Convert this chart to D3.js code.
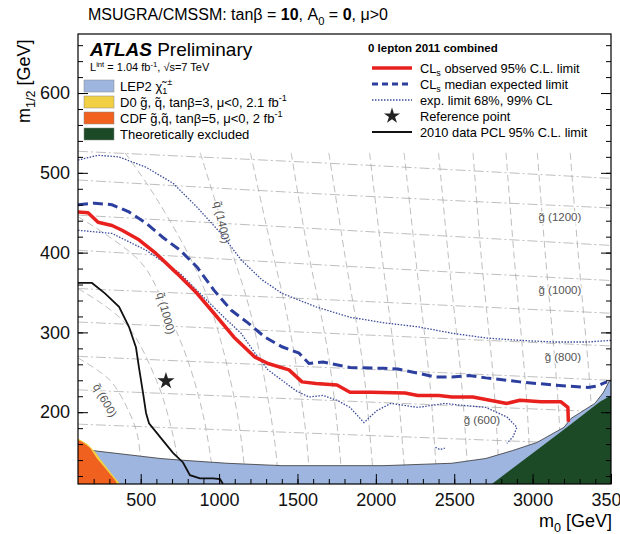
<!DOCTYPE html>
<html lang="en">
<head>
<meta charset="UTF-8">
<title>MSUGRA/CMSSM 0 lepton limit</title>
<script src="https://d3js.org/d3.v7.min.js"></script>
<style>
  body { margin: 0; background: #fff; }
  svg { font-family: "Liberation Sans", Arial, Helvetica, sans-serif; }
  .grid { fill: none; stroke: #a8a8a8; stroke-width: 0.75; }
  .glabel { font-size: 11.5px; fill: #555; stroke: #fff; stroke-width: 3px; paint-order: stroke; }
</style>
</head>
<body>
<svg width="620" height="534"></svg>
<script>
// ---- data, [m0, m1/2] in GeV ----
const observed = [[100,451],[164,450],[228,438],[317,434],[381,428],[489,416],[597,399],[731,374],[859,349],[967,324],[1095,294],[1229,269],[1312,261],[1446,253],[1529,238],[1618,236],[1752,234],[1835,225],[1969,225],[2186,224],[2268,221],[2402,221],[2485,219],[2619,219],[2702,216],[2836,211],[2919,215],[3053,213],[3181,213],[3225,206],[3228,188]];
const expected = [[100,460],[208,462],[317,460],[425,451],[534,437],[642,419],[751,403],[859,382],[967,353],[1076,328],[1184,312],[1293,294],[1401,282],[1510,274],[1573,261],[1663,263],[1835,256],[2052,255],[2141,254],[2268,249],[2377,244],[2485,244],[2593,246],[2702,243],[2919,238],[3136,234],[3352,231],[3417,233],[3449,236],[3475,238]];
const expUpper = [[100,516],[228,522],[361,520],[534,507],[706,487],[859,457],[1012,424],[1140,391],[1273,366],[1401,349],[1618,332],[1835,319],[2052,312],[2268,307],[2485,299],[2702,293],[2919,290],[3136,288],[3352,288],[3500,290]];
const expLower = [[100,428],[317,424],[534,403],[751,374],[923,340],[1031,319],[1140,299],[1229,274],[1312,253],[1401,240],[1490,227],[1573,219],[1663,221],[1752,215],[1835,206],[1924,187],[2007,202],[2096,211],[2268,206],[2441,211],[2530,209],[2702,206],[2836,194],[2900,181],[2874,169],[2836,161]];
const expIsland = [[2380,156],[2410,153],[2440,155]];
const pcl2010 = [[100,362],[189,362],[272,349],[362,332],[425,307],[470,281],[489,256],[515,224],[534,199],[553,186],[623,169],[706,149],[770,137],[814,121],[878,117],[961,117],[1006,116],[1025,110]];
const refPoint = [661, 239];

const lepTop = [[100,156],[189,152],[623,142],[751,140],[1050,136],[1401,133],[2052,133],[2485,136],[2702,142],[2874,152],[3027,162],[3136,174],[3200,181],[3244,192],[3308,200],[3397,211],[3449,224],[3487,238],[3500,241]];
const d0Edge = [[100,167],[160,160],[210,150],[255,138],[315,123],[368,110]];
const cdfEdge = [[100,165],[132,162],[177,155],[221,142],[285,127],[336,115],[349,110]];
const theoEdge = [[2740,110],[3002,149],[3219,181],[3429,213],[3500,221]];

// iso-mass contours (grey)
const squarkLines = [
  [[100,268],[304,240],[412,206],[476,174],[500,140],[510,110]],
  [[100,355],[400,312],[600,240],[700,176],[750,125],[760,110]],
  [[100,445],[500,388],[661,330],[800,265],[900,195],[960,125],[970,110]],
  [[400,525],[600,468],[900,357],[1100,215],[1165,125],[1170,110]],
  [[880,525],[1018,438],[1200,325],[1350,170],[1380,110]],
  [[1200,525],[1300,435],[1450,305],[1550,180],[1580,110]],
  [[1460,525],[1550,420],[1700,268],[1770,150],[1785,110]],
  [[1700,525],[1800,400],[1920,255],[1980,130],[1990,110]],
  [[1960,525],[2030,410],[2130,250],[2180,135],[2190,110]],
  [[2180,525],[2250,400],[2350,225],[2390,110]],
  [[2400,525],[2460,400],[2550,230],[2590,110]],
  [[2620,525],[2670,400],[2750,240],[2790,110]],
  [[2830,525],[2880,400],[2960,220],[2990,110]],
  [[3030,525],[3080,400],[3160,220],[3190,110]],
  [[3240,525],[3290,400],[3370,220],[3395,110]]
];
const gluinoLines = [
  [[100,527],[1800,511],[3500,493]],
  [[100,491],[1800,472],[3500,456]],
  [[100,447],[1800,428],[3500,409]],
  [[100,403],[1800,383],[3500,365]],
  [[100,355],[1800,340],[3500,324]],
  [[100,313],[1800,298],[3500,283]],
  [[100,270],[1800,255],[3500,240]],
  [[100,228],[1800,214],[3500,200]],
  [[100,185],[1800,172],[3500,159]]
];
const gluinoLabels = [["g\u0303 (1200)",3174,445],["g\u0303 (1000)",3174,353],["g\u0303 (800)",3193,269],["g\u0303 (600)",2677,190]];
const squarkLabels = [["q\u0303 (600)",272,215,60],["q\u0303 (1000)",661,324,75],["q\u0303 (1400)",1018,438,78]];

const xTicks = [500,1000,1500,2000,2500,3000,3500];
const yTicks = [200,300,400,500,600];

const fillLabels = ["LEP2  \u03c7\u0303_{1}^{\u00b1}", "D0 g\u0303, q\u0303, tan\u03b2=3, \u03bc<0, 2.1 fb^{-1}", "CDF g\u0303,q\u0303, tan\u03b2=5, \u03bc<0, 2 fb^{-1}", "Theoretically excluded"];
const lineLabels = ["CL_{s} observed 95% C.L. limit", "CL_{s} median expected limit", "exp. limit 68%, 99% CL", "Reference point", "2010 data PCL 95% C.L. limit"];

// ---- styles ----
const col = { lep: "#9db5df", d0: "#f1d043", cdf: "#f0601f", theo: "#1c4a27", obs: "#e8201e", exp: "#2c3f9f", band: "#3b4a9c" };

const margin = { top: 34, right: 9, bottom: 50, left: 78 };
const width = 620 - margin.left - margin.right;
const height = 534 - margin.top - margin.bottom;

const svg = d3.select("svg");
const g = svg.append("g").attr("transform", `translate(${margin.left},${margin.top})`);

const x = d3.scaleLinear().domain([100, 3500]).range([0, width]);
const y = d3.scaleLinear().domain([110, 674]).range([height, 0]);

// text with _{sub}, ^{sup}, *{bold}
function rich(sel, str, fs) {
  let shift = 0;
  str.split(/(_\{[^}]*\}|\^\{[^}]*\}|\*\{[^}]*\})/).forEach(p => {
    if (!p) return;
    let target = 0, size = fs, bold = false, txt = p;
    if (p.startsWith("_{")) { target = fs * 0.3; size = fs * 0.7; txt = p.slice(2, -1); }
    else if (p.startsWith("^{")) { target = -fs * 0.4; size = fs * 0.7; txt = p.slice(2, -1); }
    else if (p.startsWith("*{")) { bold = true; txt = p.slice(2, -1); }
    const t = sel.append("tspan").attr("dy", target - shift).attr("font-size", size).text(txt);
    if (bold) t.attr("font-weight", "bold");
    shift = target;
  });
}

g.append("clipPath").attr("id", "plot").append("rect").attr("width", width).attr("height", height);
const plot = g.append("g").attr("clip-path", "url(#plot)");

const line = d3.line().x(d => x(d[0])).y(d => y(d[1]));
const smooth = d3.line().x(d => x(d[0])).y(d => y(d[1])).curve(d3.curveCatmullRom);

// grey iso-mass grid
plot.selectAll(".sq").data(squarkLines).enter().append("path")
  .attr("class", "grid").attr("d", smooth).attr("stroke-dasharray", "7,4");
plot.selectAll(".gl").data(gluinoLines).enter().append("path")
  .attr("class", "grid").attr("d", smooth).attr("stroke-dasharray", "10,3,2,3");

plot.selectAll(".gll").data(gluinoLabels).enter().append("text")
  .attr("class", "glabel").attr("text-anchor", "middle")
  .attr("x", d => x(d[1])).attr("y", d => y(d[2]) + 4).text(d => d[0]);
plot.selectAll(".sql").data(squarkLabels).enter().append("text")
  .attr("class", "glabel").attr("text-anchor", "middle")
  .attr("transform", d => `translate(${x(d[1])},${y(d[2])}) rotate(${d[3]})`)
  .attr("dy", 4).text(d => d[0]);

// excluded regions
const area = pts => line(pts) + "Z";
plot.append("path").attr("d", area(lepTop.concat([[3500,110],[100,110]]))).attr("fill", col.lep);
plot.append("path").attr("d", line(lepTop)).attr("fill", "none").attr("stroke", "#333").attr("stroke-width", 0.8);
plot.append("path").attr("d", area(d0Edge.concat([[100,110]]))).attr("fill", col.d0);
plot.append("path").attr("d", area(cdfEdge.concat([[100,110]]))).attr("fill", col.cdf);
plot.append("path").attr("d", area(theoEdge.concat([[3500,110]]))).attr("fill", col.theo);

// limits
[expUpper, expLower, expIsland].forEach(pts => {
  plot.append("path").attr("d", line(pts)).attr("fill", "none")
    .attr("stroke", col.band).attr("stroke-width", 1.3).attr("stroke-dasharray", "1.5,1.5");
});
plot.append("path").attr("d", line(expected)).attr("fill", "none")
  .attr("stroke", col.exp).attr("stroke-width", 3).attr("stroke-dasharray", "10,5");
plot.append("path").attr("d", line(observed)).attr("fill", "none")
  .attr("stroke", col.obs).attr("stroke-width", 3.5).attr("stroke-linejoin", "round");
plot.append("path").attr("d", line(pcl2010)).attr("fill", "none")
  .attr("stroke", "#111").attr("stroke-width", 1.8);
plot.append("path").attr("d", d3.symbol(d3.symbolStar, 90)())
  .attr("transform", `translate(${x(refPoint[0])},${y(refPoint[1])})`).attr("fill", "#222");

// axes, ticks inward
function styleAxis(a) {
  a.select(".domain").remove();
  a.selectAll("line").attr("stroke", "#000");
  a.attr("font-family", null).attr("font-size", 18).selectAll("text").attr("fill", "#111");
}
const fmt = d3.format("d");
g.append("g").attr("transform", `translate(0,${height})`)
  .call(d3.axisBottom(x).tickValues(d3.range(200, 3500, 100)).tickSize(-5).tickFormat("")).call(styleAxis);
g.append("g").attr("transform", `translate(0,${height})`)
  .call(d3.axisBottom(x).tickValues(xTicks).tickSize(-10).tickPadding(9).tickFormat(fmt)).call(styleAxis);
g.append("g").call(d3.axisLeft(y).tickValues(d3.range(120, 674, 20)).tickSize(-5).tickFormat("")).call(styleAxis);
g.append("g").call(d3.axisLeft(y).tickValues(yTicks).tickSize(-10).tickPadding(8).tickFormat(fmt)).call(styleAxis);
g.append("g").attr("transform", `translate(${width},0)`)
  .call(d3.axisRight(y).tickValues(d3.range(120, 674, 20)).tickSize(-5).tickFormat("")).call(styleAxis);
g.append("g").attr("transform", `translate(${width},0)`)
  .call(d3.axisRight(y).tickValues(yTicks).tickSize(-10).tickFormat("")).call(styleAxis);

g.append("rect").attr("width", width).attr("height", height)
  .attr("fill", "none").attr("stroke", "#000").attr("stroke-width", 1.2);

// axis titles
rich(svg.append("text").attr("x", 612).attr("y", 527).attr("text-anchor", "end").attr("font-size", 18), "m_{0} [GeV]", 18);
rich(svg.append("text").attr("transform", "translate(30,123) rotate(-90)").attr("font-size", 18), "m_{1/2} [GeV]", 18);

// title
rich(svg.append("text").attr("x", 88).attr("y", 20).attr("font-size", 16),
  "MSUGRA/CMSSM: tan\u03b2 = *{10}, A_{0} = *{0}, \u03bc>0", 16);

// left legend
const atlas = svg.append("text").attr("x", 90).attr("y", 56).attr("font-size", 19);
atlas.append("tspan").attr("font-weight", "bold").attr("font-style", "italic").text("ATLAS");
atlas.append("tspan").text(" Preliminary");
rich(svg.append("text").attr("x", 90).attr("y", 71).attr("font-size", 11),
  "L^{int} = 1.04 fb^{-1}, \u221as=7 TeV", 11);

const fillCols = [col.lep, col.d0, col.cdf, col.theo];
fillLabels.forEach((lab, i) => {
  svg.append("rect").attr("x", 84).attr("y", 80 + i * 16).attr("width", 30).attr("height", 12)
    .attr("fill", fillCols[i]).attr("stroke", "#888").attr("stroke-width", 0.5);
  rich(svg.append("text").attr("x", 120).attr("y", 90.5 + i * 16).attr("font-size", 13), lab, 13);
});

// right legend
svg.append("text").attr("x", 368).attr("y", 52).attr("font-size", 11.5).attr("font-weight", "bold")
  .text("0 lepton 2011 combined");
const rows = lineLabels.map((lab, i) => 68 + i * 16);
lineLabels.forEach((lab, i) => {
  rich(svg.append("text").attr("x", 420).attr("y", rows[i] + 4.5).attr("font-size", 12.8), lab, 12.8);
});
const lg = [
  { c: col.obs, w: 3.5, da: null },
  { c: col.exp, w: 3, da: "6,4" },
  { c: col.band, w: 1.3, da: "1.5,1.5" }
];
lg.forEach((s, i) => {
  svg.append("line").attr("x1", 372).attr("x2", 412).attr("y1", rows[i]).attr("y2", rows[i])
    .attr("stroke", s.c).attr("stroke-width", s.w).attr("stroke-dasharray", s.da);
});
svg.append("path").attr("d", d3.symbol(d3.symbolStar, 80)())
  .attr("transform", `translate(392,${rows[3]})`).attr("fill", "#222");
svg.append("line").attr("x1", 372).attr("x2", 412).attr("y1", rows[4]).attr("y2", rows[4])
  .attr("stroke", "#111").attr("stroke-width", 1.8);
</script>
</body>
</html>
